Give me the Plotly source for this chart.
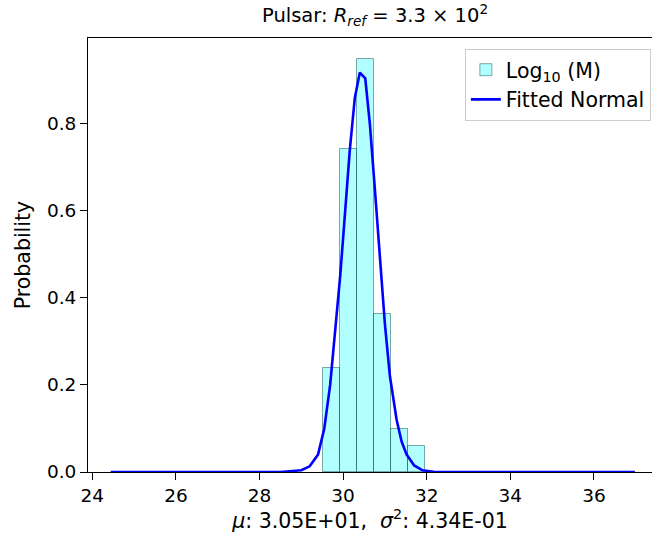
import plotly.graph_objects as go

# histogram of log10(M): bin edges and bar heights
bin_edges = [29.53, 29.93, 30.34, 30.75, 31.15, 31.56, 31.97]
bin_heights = [0.24, 0.742, 0.949, 0.363, 0.098, 0.060]

# fitted normal curve
curve_x = [24.44, 28.5, 29.0, 29.2, 29.4, 29.55, 29.69, 29.81, 29.93, 30.05, 30.16,
           30.28, 30.40, 30.53, 30.64, 30.76, 30.88, 31.00, 31.12, 31.28, 31.40,
           31.52, 31.70, 31.90, 32.2, 36.98]
curve_y = [0.0, 0.0, 0.004, 0.013, 0.04, 0.10, 0.20, 0.32, 0.45, 0.60, 0.74,
           0.86, 0.918, 0.905, 0.80, 0.65, 0.49, 0.34, 0.22, 0.12, 0.07,
           0.04, 0.015, 0.004, 0.0, 0.0]

x_ticks = [24, 26, 28, 30, 32, 34, 36]
y_ticks = [0.0, 0.2, 0.4, 0.6, 0.8]

bin_centers = [(a + b) / 2 for a, b in zip(bin_edges[:-1], bin_edges[1:])]
bin_widths = [b - a for a, b in zip(bin_edges[:-1], bin_edges[1:])]

font = dict(family='DejaVu Sans', size=18.5, color='black')
label_font = dict(family='DejaVu Sans', size=20.5, color='black')

fig = go.Figure()

fig.add_trace(go.Bar(x=bin_centers, y=bin_heights, width=bin_widths,
                     name='Log<sub>10</sub> (M)',
                     marker=dict(color='rgba(0,255,255,0.3)',
                                 line=dict(color='rgba(0,60,60,0.45)', width=1))))

fig.add_trace(go.Scatter(x=curve_x, y=curve_y, mode='lines', name='Fitted Normal',
                         line=dict(color='blue', width=2.6)))

fig.update_layout(
    width=652, height=546,
    margin=dict(l=88, r=0, t=38, b=74, autoexpand=False),
    plot_bgcolor='white', paper_bgcolor='white',
    font=font,
    showlegend=True,
    title=dict(text='Pulsar: <i>R</i><sub><i>ref</i></sub> = 3.3 × 10<sup>2</sup>',
               x=0.509, xref='paper', xanchor='center',
               y=1 - 15 / 546, yref='container', yanchor='middle',
               font=dict(family='DejaVu Sans', size=19.5, color='black')),
    legend=dict(x=0.998, y=0.975, xanchor='right', yanchor='top',
                bgcolor='rgba(255,255,255,0.8)', bordercolor='#cccccc', borderwidth=1,
                font=dict(family='DejaVu Sans', size=20.5, color='black'),
                tracegroupgap=2),
    bargap=0,
)

fig.update_xaxes(range=[23.897, 37.39], tickvals=x_ticks, ticktext=[str(t) for t in x_ticks],
                 showgrid=False, zeroline=False, showline=True, linecolor='black', linewidth=1,
                 mirror=True, ticks='outside', ticklen=7, tickcolor='black', automargin=False,
                 tickfont=font,
                 title=dict(text='<i>μ</i>: 3.05E+01,  <i>σ</i><sup>2</sup>: 4.34E-01', standoff=8,
                            font=label_font))

fig.update_yaxes(range=[0, 0.9975], tickvals=y_ticks, ticktext=['%.1f' % t for t in y_ticks],
                 showgrid=False, zeroline=False, showline=True, linecolor='black', linewidth=1,
                 mirror=False, ticks='outside', ticklen=7, tickcolor='black', automargin=False,
                 tickfont=font,
                 title=dict(text='Probability', standoff=10, font=label_font))

# drop the browser's default 8px body margin so the figure sits at the page corner
fig.write_html("out.html", config={'displayModeBar': False},
               post_script="document.body.style.margin='0';")
